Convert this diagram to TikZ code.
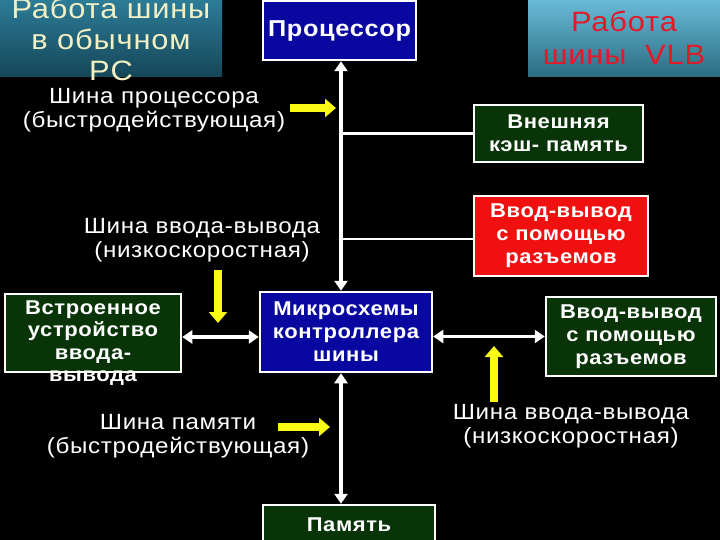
\documentclass[tikz,border=0pt]{standalone}
\usepackage{fontspec}
\setmainfont{Liberation Sans}[LetterSpace=3, FakeStretch=1.1]
\usetikzlibrary{arrows.meta,positioning}
\definecolor{cpublue}{RGB}{8,8,160}
\definecolor{boxgreen}{RGB}{8,52,8}
\definecolor{iored}{RGB}{240,16,16}
\definecolor{busyel}{RGB}{250,250,20}
\definecolor{ttlyel}{RGB}{240,240,196}
\definecolor{ttlred}{RGB}{230,24,40}
\definecolor{tealtop}{RGB}{44,124,152}
\definecolor{tealbot}{RGB}{22,70,88}
\definecolor{skytop}{RGB}{104,186,216}
\definecolor{skybot}{RGB}{42,108,128}
\tikzset{
  blk/.style={
    draw=white, line width=2.5pt, align=center, text=white,
    inner sep=2pt, font=\bfseries\fontsize{20}{23}\selectfont
  },
  cpu/.style={blk, fill=cpublue},
  grn/.style={blk, fill=boxgreen},
  redbox/.style={blk, fill=iored},
  lbl/.style={text=white, align=center, font=\fontsize{22}{24}\selectfont},
  ttl/.style={align=center, inner sep=0pt, font=\fontsize{28}{31}\selectfont},
  bus/.style={draw=white, line width=3.5pt,
    {Triangle[length=10pt,width=13pt]}-{Triangle[length=10pt,width=13pt]}},
  wire/.style={draw=white, line width=2.5pt},
  yarr/.style={draw=busyel, line width=8pt, -{Triangle[length=11pt,width=18pt]}}
}
\begin{document}
\begin{tikzpicture}[x=1pt, y=-1pt]
  \fill[black] (0,0) rectangle (720,540);
  \useasboundingbox (0,0) rectangle (720,540);
  % title panels
  \node[ttl, minimum width=222, minimum height=77, top color=tealtop,
    bottom color=tealbot] (ttlpc) at (111,38.5) {};
  \node[ttl, text=ttlyel] (ttlpctxt) at (111,39) {Работа шины\\в обычном\\PC};
  \node[ttl, minimum width=192, minimum height=77, top color=skytop,
    bottom color=skybot] (ttlvlb) at (624,38.5) {};
  \node[ttl, text=ttlred, font=\fontsize{28}{33}\selectfont] (ttlvlbtxt)
    at (624,38) {Работа\\шины~ VLB};
  % boxes
  \node[cpu, minimum width=153, minimum height=59, font=\bfseries\fontsize{23}{26}\selectfont]
    (cpu) at (339.5,30.5) {Процессор};
  \node[grn, minimum width=169, minimum height=57] (cache) at (558.5,133.5)
    {Внешняя\\кэш- память};
  \node[redbox, minimum width=174, minimum height=80] (slotio) at (561,236)
    {Ввод-вывод\\с помощью\\разъемов};
  \node[grn, minimum width=176, minimum height=78] (emb) at (93,333) {};
  \node[blk, draw=none, font=\bfseries\fontsize{20}{22.5}\selectfont] (embtxt)
    at (93,343) {Встроенное\\устройство\\ввода-\\вывода};
  \node[cpu, minimum width=172, minimum height=80] (ctrl) at (346,332)
    {Микросхемы\\контроллера\\шины};
  \node[grn, minimum width=170, minimum height=79] (vlbio) at (631,336.5)
    {Ввод-вывод\\с помощью\\разъемов};
  \node[grn, minimum width=172, minimum height=40] (mem) at (349,525) {Память};
  % bus labels
  \node[lbl] (cpubus) at (154,110) {Шина процессора\\(быстродействующая)};
  \node[lbl] (iobus) at (202,240) {Шина ввода-вывода\\(низкоскоростная)};
  \node[lbl] (membus) at (178,436) {Шина памяти\\(быстродействующая)};
  \node[lbl] (vlbbus) at (571,426) {Шина ввода-вывода\\(низкоскоростная)};
  % pointer tails
  \coordinate (cputail) at (290,108);
  \coordinate (iotail) at (218,270);
  \coordinate (vlbtail) at (494,402);
  \coordinate (memtail) at (278,427);
  % connections
  \draw[bus] ([xshift=1.5pt]cpu.south) -- ([xshift=1.5pt]cpu.south |- ctrl.north);
  \draw[bus] ([xshift=1.5pt]cpu.south |- ctrl.south) -- ([xshift=1.5pt]cpu.south |- mem.north);
  \draw[wire] (cache.west) -- ([xshift=1.5pt]cpu.south |- cache.west);
  \draw[wire] ([yshift=-3pt]slotio.west) -- ([xshift=1.5pt,yshift=-3pt]cpu.south |- slotio.west);
  \draw[bus] ([yshift=-4pt]emb.east) -- ([yshift=-4pt]emb.east -| ctrl.west);
  \draw[bus] (ctrl.east |- vlbio.west) -- (vlbio.west);
  % bus pointers
  \draw[yarr] (cputail) -- ++(46,0);
  \draw[yarr] (iotail) -- ++(0,53);
  \draw[yarr] (vlbtail) -- ++(0,-56);
  \draw[yarr] (memtail) -- ++(52,0);
\end{tikzpicture}
\end{document}
